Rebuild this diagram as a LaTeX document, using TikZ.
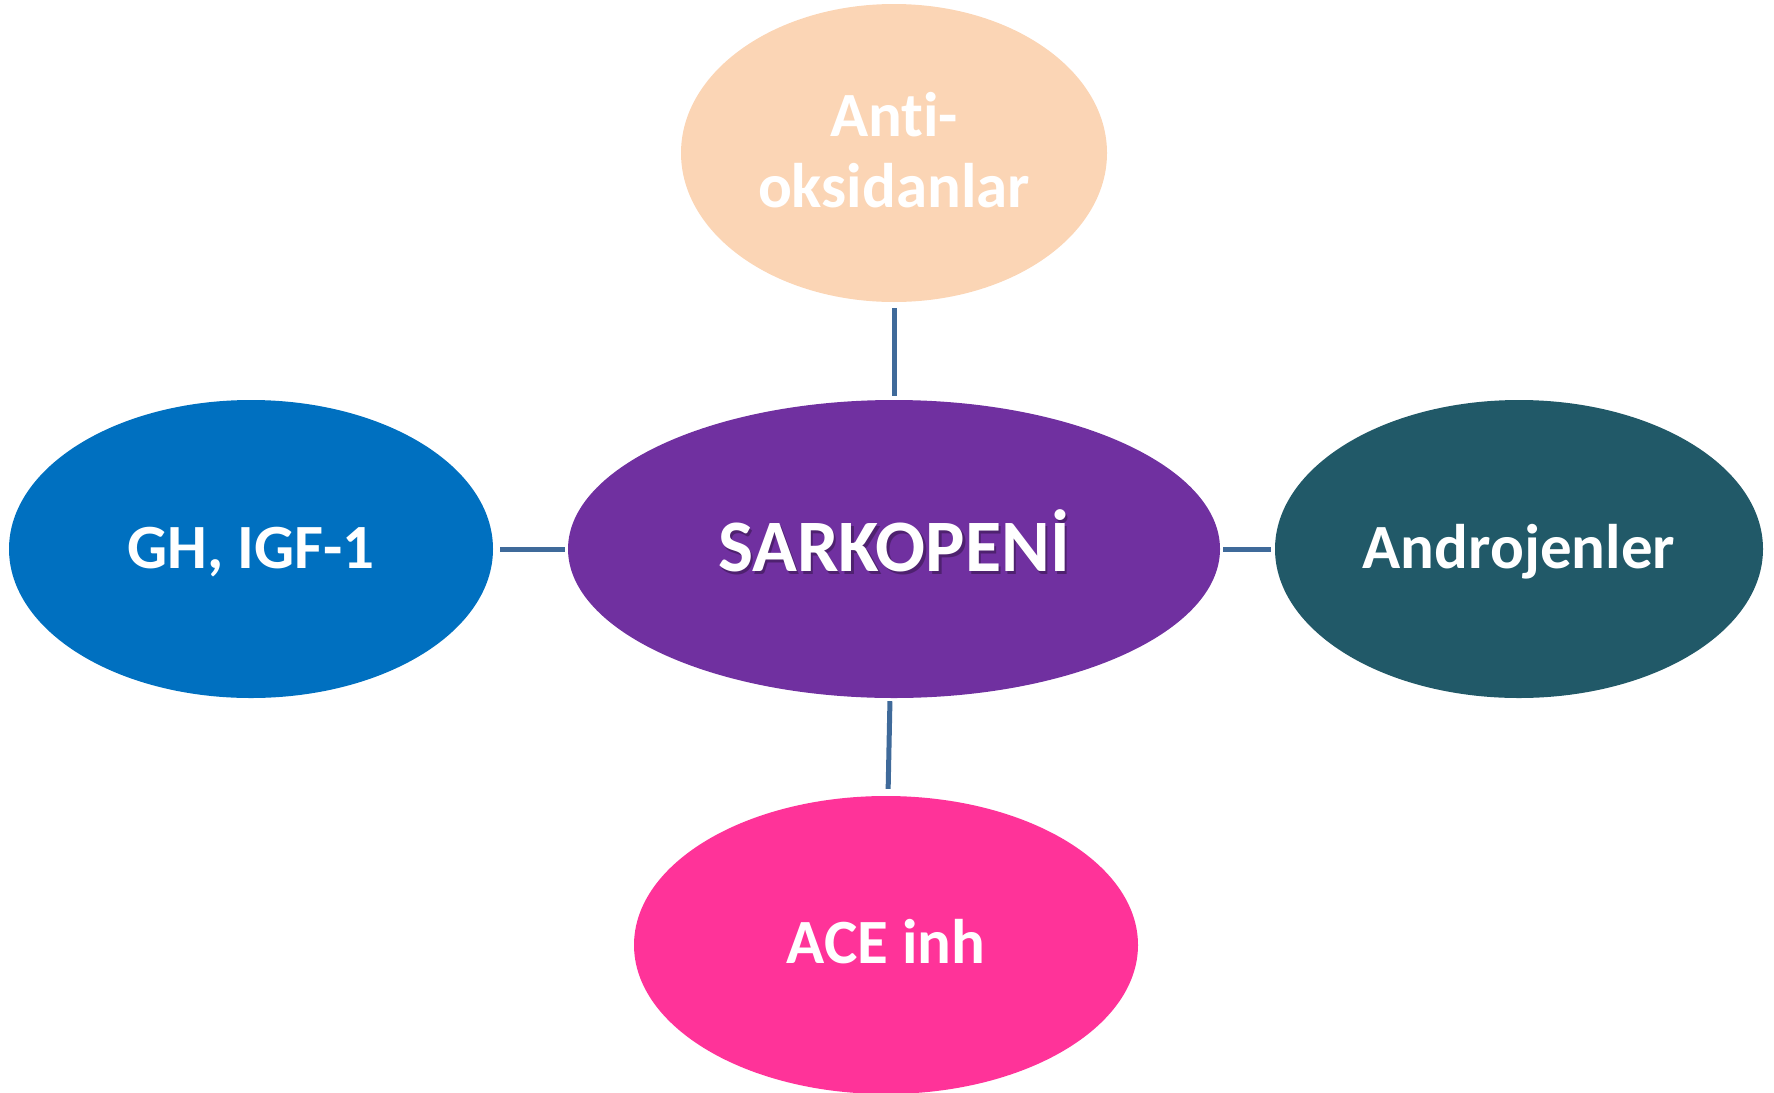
\documentclass[tikz,border=0pt]{standalone}
\usepackage{fontspec}
\setmainfont{Carlito}[Ligatures=NoCommon]
\usetikzlibrary{shapes.geometric}
\definecolor{cPeach}{HTML}{FBD5B5}
\definecolor{cPurple}{HTML}{7030A0}
\definecolor{cBlue}{HTML}{0070C0}
\definecolor{cTeal}{HTML}{215968}
\definecolor{cPink}{HTML}{FF3399}
\definecolor{cLine}{HTML}{3F6A9A}
\tikzset{
  blob/.style={ellipse, inner sep=0pt, minimum height=298pt, draw=none},
  lbl/.style={text=white, font=\bfseries\fontsize{63}{71}\selectfont, align=center},
  conn/.style={draw=cLine, line width=5pt}
}
\begin{document}
\begin{tikzpicture}[x=1pt,y=-1pt]
\useasboundingbox (0,0) rectangle (1774,1092);
\node[blob, fill=cPeach, minimum width=426pt] (top) at (894,153) {};
\node[blob, fill=cPurple, minimum width=652pt] (center) at (894,549) {};
\node[blob, fill=cBlue, minimum width=484pt] (left) at (251,549) {};
\node[blob, fill=cTeal, minimum width=488pt] (right) at (1519,549) {};
\node[blob, fill=cPink, minimum width=504pt] (bottom) at (886,945) {};
\node[lbl] (ttop) at (894,150) {Anti-\\oksidanlar};
\node[text=black, opacity=0.3, font=\bfseries\fontsize{74}{80}\selectfont] (tshadow) at (896.5,543.5) {SARKOPENİ};
\node[text=white, font=\bfseries\fontsize{74}{80}\selectfont] (tcenter) at (894,541) {SARKOPENİ};
\node[lbl] (tleft) at (251,552) {GH, IGF-1};
\node[lbl] (tright) at (1519,552) {Androjenler};
\node[lbl] (tbottom) at (886,942) {ACE inh};
\draw[conn, shorten <=6pt, shorten >=4pt] (top.south) -- (center.north);
\draw[conn, shorten <=7pt, shorten >=3pt] (left.east) -- (center.west);
\draw[conn, shorten <=3pt, shorten >=4pt] (center.east) -- (right.west);
\draw[conn, shorten <=3pt, shorten >=7pt] ([xshift=-4pt]center.south) -- ([xshift=2pt]bottom.north);
\end{tikzpicture}
\end{document}
